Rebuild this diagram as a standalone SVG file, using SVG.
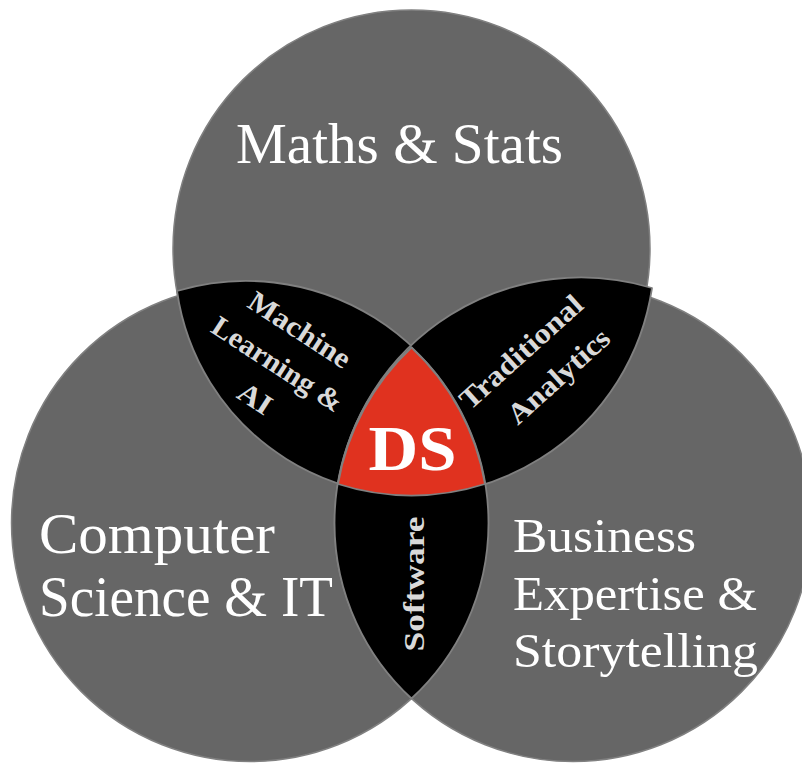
<svg xmlns="http://www.w3.org/2000/svg" width="802" height="765" viewBox="0 0 802 765">
  <style>
    .circle { fill: #666666; stroke: #808080; stroke-width: 1.5; }
    .lens { fill: #000000; stroke: #808080; stroke-width: 1.8; stroke-linejoin: round; }
    .core { fill: #e0321f; stroke: #808080; stroke-width: 1.8; stroke-linejoin: round; }
    .main { font-family: "Liberation Serif", "DejaVu Serif", serif; fill: #ffffff; }
    .small { font-family: "Liberation Serif", "DejaVu Serif", serif; font-weight: bold; fill: #d9d9d9; font-size: 29px; text-anchor: middle; }
    .ds { font-family: "Liberation Serif", "DejaVu Serif", serif; font-weight: bold; fill: #ffffff; font-size: 64px; text-anchor: middle; }
  </style>

  <!-- three skill areas -->
  <g id="maths-stats">
    <circle class="circle" cx="411.5" cy="248.5" r="238.5"/>
    <text class="main" x="236" y="163" font-size="56" textLength="327" lengthAdjust="spacingAndGlyphs">Maths &amp; Stats</text>
  </g>
  <g id="computer-science">
    <circle class="circle" cx="250" cy="523" r="238.5"/>
    <text class="main" font-size="56">
      <tspan x="39" y="553" textLength="236" lengthAdjust="spacingAndGlyphs">Computer</tspan>
      <tspan x="39" y="616" textLength="294" lengthAdjust="spacingAndGlyphs">Science &amp; IT</tspan>
    </text>
  </g>
  <g id="business">
    <circle class="circle" cx="573" cy="523" r="238.5"/>
    <text class="main" font-size="49">
      <tspan x="513" y="552" textLength="183" lengthAdjust="spacingAndGlyphs">Business</tspan>
      <tspan x="513" y="610" textLength="244" lengthAdjust="spacingAndGlyphs">Expertise &amp;</tspan>
      <tspan x="513" y="667" textLength="245" lengthAdjust="spacingAndGlyphs">Storytelling</tspan>
    </text>
  </g>

  <!-- pairwise overlaps -->
  <g id="machine-learning">
    <path class="lens" d="M177,291 A242,242 0 0 1 485,484 A238,238 0 0 1 177,291 Z"/>
    <text class="small" transform="translate(294.5,337.9) rotate(33)" textLength="116" lengthAdjust="spacingAndGlyphs">Machine</text>
    <text class="small" transform="translate(272.2,372.2) rotate(33)" textLength="150" lengthAdjust="spacingAndGlyphs">Learning &amp;</text>
    <text class="small" transform="translate(249.9,406.6) rotate(33)" textLength="35" lengthAdjust="spacingAndGlyphs">AI</text>
  </g>
  <g id="traditional-analytics">
    <path class="lens" d="M652,288 A246,246 0 0 0 338,484 A243,243 0 0 0 652,288 Z"/>
    <text class="small" transform="translate(527.6,359.1) rotate(-42)" textLength="155" lengthAdjust="spacingAndGlyphs">Traditional</text>
    <text class="small" transform="translate(565,383.4) rotate(-42)" textLength="127" lengthAdjust="spacingAndGlyphs">Analytics</text>
  </g>
  <g id="software">
    <path class="lens" d="M411.5,347.5 A238.5,238.5 0 0 0 411.5,698.5 A238.5,238.5 0 0 0 411.5,347.5 Z"/>
    <text class="small" font-size="30" transform="translate(423.5,584) rotate(-90)" textLength="135" lengthAdjust="spacingAndGlyphs">Software</text>
  </g>

  <!-- centre: all three -->
  <g id="data-science">
    <path class="core" d="M411.5,347.5 A244,244 0 0 0 338,484 A240,240 0 0 0 485,484 A242,242 0 0 0 411.5,347.5 Z"/>
    <text class="ds" x="412.5" y="469.5" textLength="88" lengthAdjust="spacingAndGlyphs">DS</text>
  </g>
</svg>
